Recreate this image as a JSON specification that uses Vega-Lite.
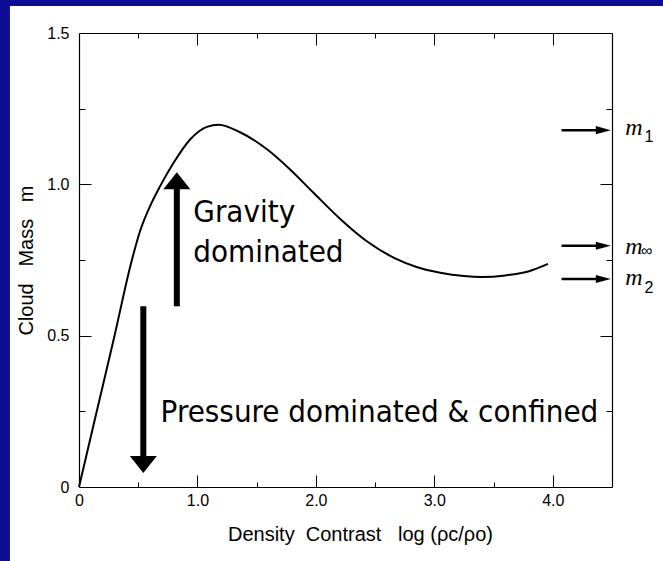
{
  "$schema": "https://vega.github.io/schema/vega-lite/v6.json",
  "width": 533,
  "height": 454,
  "autosize": "none",
  "padding": {"left": 79, "top": 33, "right": 51, "bottom": 74},
  "background": "#0D0D96",
  "config": {"view": {"stroke": null}},
  "datasets": {
    "panel": [{"name": "panel"}],
    "curve": [
      {"x": 0, "m": 0}, {"x": 0.15, "m": 0.25}, {"x": 0.3, "m": 0.5},
      {"x": 0.44, "m": 0.74}, {"x": 0.515, "m": 0.845}, {"x": 0.6, "m": 0.928}, {"x": 0.685, "m": 0.994},
      {"x": 0.8, "m": 1.072}, {"x": 0.94, "m": 1.149}, {"x": 1.08, "m": 1.19}, {"x": 1.18, "m": 1.197},
      {"x": 1.36, "m": 1.172}, {"x": 1.59, "m": 1.115}, {"x": 1.78, "m": 1.05}, {"x": 1.98, "m": 0.972},
      {"x": 2.21, "m": 0.884}, {"x": 2.43, "m": 0.812}, {"x": 2.66, "m": 0.757}, {"x": 2.85, "m": 0.727},
      {"x": 3.05, "m": 0.708}, {"x": 3.25, "m": 0.697}, {"x": 3.4, "m": 0.694}, {"x": 3.6, "m": 0.699},
      {"x": 3.8, "m": 0.713}, {"x": 3.96, "m": 0.737}
    ],
    "thick": [
      {"x": 0.826, "y": 0.597, "y2": 0.99},
      {"x": 0.543, "y": 0.597, "y2": 0.095}
    ],
    "thin": [
      {"x": 4.074, "x2": 4.38, "y": 1.179},
      {"x": 4.074, "x2": 4.38, "y": 0.797},
      {"x": 4.074, "x2": 4.38, "y": 0.687}
    ],
    "heads": [
      {"x": 0.826, "y": 1.04, "dir": "up"},
      {"x": 0.543, "y": 0.046, "dir": "down"},
      {"x": 4.49, "y": 1.179, "dir": "right"},
      {"x": 4.49, "y": 0.797, "dir": "right"},
      {"x": 4.49, "y": 0.687, "dir": "right"}
    ],
    "notes": [
      {"t": "Gravity\ndominated", "x": 0.965, "y": 0.876},
      {"t": "Pressure dominated & confined", "x": 0.689, "y": 0.215}
    ],
    "mlab": [
      {"t": "m", "x": 4.611, "y": 1.162},
      {"t": "m", "x": 4.611, "y": 0.77},
      {"t": "m", "x": 4.611, "y": 0.667}
    ],
    "msub": [
      {"t": "1", "x": 4.775, "y": 1.14},
      {"t": "∞", "x": 4.745, "y": 0.762},
      {"t": "2", "x": 4.775, "y": 0.642}
    ]
  },
  "resolve": {"axis": {"x": "independent", "y": "independent"}},
  "layer": [
    {
      "data": {"name": "panel"},
      "mark": {"type": "rect", "fill": "white", "clip": false},
      "encoding": {
        "x": {"datum": -0.583, "type": "quantitative",
          "scale": {"domain": [0, 4.5], "nice": false, "zero": false},
          "axis": {"orient": "bottom", "values": [0, 1, 2, 3, 4], "ticks": false, "grid": false,
            "labelExpr": "datum.value == 0 ? '0' : format(datum.value, '.1f')",
            "labelFont": "Liberation Sans", "labelFontSize": 16, "labelColor": "black", "labelPadding": 5,
            "labelFlush": false, "labelOverlap": false,
            "domainColor": "black", "domainWidth": 1.2,
            "title": "Density\u00a0 Contrast\u00a0\u00a0 log (ρc/ρo)", "titleFont": "Liberation Sans", "titleFontSize": 20,
            "titleFontWeight": "normal", "titleColor": "black", "titlePadding": 16, "titleX": 281, "zindex": 1}},
        "x2": {"datum": 5.0},
        "y": {"datum": -0.3, "type": "quantitative",
          "scale": {"domain": [0, 1.5], "nice": false, "zero": false},
          "axis": {"orient": "left", "values": [0, 0.5, 1, 1.5], "ticks": false, "grid": false,
            "labelExpr": "datum.value == 0 ? '0' : format(datum.value, '.1f')",
            "labelFont": "Liberation Sans", "labelFontSize": 16, "labelColor": "black", "labelPadding": 10,
            "labelFlush": false, "labelOverlap": false,
            "domainColor": "black", "domainWidth": 1.2,
            "title": "Cloud\u00a0\u00a0 Mass\u00a0\u00a0 m", "titleFont": "Liberation Sans", "titleFontSize": 20,
            "titleFontWeight": "normal", "titleColor": "black", "titlePadding": 10, "zindex": 1}},
        "y2": {"datum": 1.589}
      }
    },
    {
      "data": {"name": "curve"},
      "mark": {"type": "line", "color": "black", "strokeWidth": 2, "interpolate": "monotone"},
      "encoding": {
        "x": {"field": "x", "type": "quantitative", "scale": {"domain": [0, 4.5], "nice": false, "zero": false},
          "axis": {"orient": "bottom", "values": [0, 1, 2, 3, 4], "labels": false, "domain": false, "grid": false,
            "ticks": true, "tickSize": -12, "tickColor": "black", "tickWidth": 1, "title": null, "zindex": 1}},
        "y": {"field": "m", "type": "quantitative", "scale": {"domain": [0, 1.5], "nice": false, "zero": false},
          "axis": {"orient": "left", "values": [0.5, 1.0], "labels": false, "domain": false, "grid": false,
            "ticks": true, "tickSize": -12, "tickColor": "black", "tickWidth": 1, "title": null, "zindex": 1}}
      }
    },
    {
      "data": {"name": "thick"},
      "mark": {"type": "rule", "color": "black", "strokeWidth": 6, "strokeCap": "butt"},
      "encoding": {
        "x": {"field": "x", "type": "quantitative", "scale": {"domain": [0, 4.5], "nice": false, "zero": false},
          "axis": {"orient": "bottom", "values": [0.5, 1.5, 2.5, 3.5], "labels": false, "domain": false, "grid": false,
            "ticks": true, "tickSize": -5, "tickColor": "black", "tickWidth": 1, "title": null, "zindex": 1}},
        "y": {"field": "y", "type": "quantitative", "scale": {"domain": [0, 1.5], "nice": false, "zero": false},
          "axis": {"orient": "left", "values": [0.25, 0.75, 1.25], "labels": false, "domain": false, "grid": false,
            "ticks": true, "tickSize": -6, "tickColor": "black", "tickWidth": 1, "title": null, "zindex": 1}},
        "y2": {"field": "y2"}
      }
    },
    {
      "data": {"name": "thin"},
      "mark": {"type": "rule", "color": "black", "strokeWidth": 2.5, "strokeCap": "butt", "clip": false},
      "encoding": {
        "x": {"field": "x", "type": "quantitative", "scale": {"domain": [0, 4.5], "nice": false, "zero": false},
          "axis": {"orient": "top", "values": [1, 2, 3, 4], "labels": false, "domain": true, "domainColor": "black",
            "domainWidth": 1.2, "grid": false,
            "ticks": true, "tickSize": -12, "tickColor": "black", "tickWidth": 1, "title": null, "zindex": 1}},
        "x2": {"field": "x2"},
        "y": {"field": "y", "type": "quantitative", "scale": {"domain": [0, 1.5], "nice": false, "zero": false},
          "axis": {"orient": "right", "values": [0.5, 1.0], "labels": false, "domain": true, "domainColor": "black",
            "domainWidth": 1.2, "grid": false,
            "ticks": true, "tickSize": -12, "tickColor": "black", "tickWidth": 1, "title": null, "zindex": 1}}
      }
    },
    {
      "data": {"name": "heads"},
      "mark": {"type": "point", "filled": true, "fill": "black", "opacity": 1, "strokeWidth": 0, "size": 729, "clip": false},
      "encoding": {
        "x": {"field": "x", "type": "quantitative", "scale": {"domain": [0, 4.5], "nice": false, "zero": false},
          "axis": {"orient": "top", "values": [0.5, 1.5, 2.5, 3.5], "labels": false, "domain": false, "grid": false,
            "ticks": true, "tickSize": -5, "tickColor": "black", "tickWidth": 1, "title": null, "zindex": 1}},
        "y": {"field": "y", "type": "quantitative", "scale": {"domain": [0, 1.5], "nice": false, "zero": false},
          "axis": {"orient": "right", "values": [0.25, 0.75, 1.25], "labels": false, "domain": false, "grid": false,
            "ticks": true, "tickSize": -6, "tickColor": "black", "tickWidth": 1, "title": null, "zindex": 1}},
        "shape": {"field": "dir", "type": "nominal", "legend": null,
          "scale": {"domain": ["up", "down", "right"],
            "range": ["M0,0L1,1.26L-1,1.26Z", "M0,0L1,-1.26L-1,-1.26Z", "M0,0L-1.11,-0.3L-1.11,0.3Z"]}}
      }
    },
    {
      "data": {"name": "notes"},
      "mark": {"type": "text", "align": "left", "baseline": "alphabetic", "lineBreak": "\n", "lineHeight": 40,
        "font": "DejaVu Sans Condensed, DejaVu Sans", "fontSize": 31, "color": "black", "clip": false},
      "encoding": {
        "x": {"field": "x", "type": "quantitative", "scale": {"domain": [0, 4.5], "nice": false, "zero": false}, "axis": null},
        "y": {"field": "y", "type": "quantitative", "scale": {"domain": [0, 1.5], "nice": false, "zero": false}, "axis": null},
        "text": {"field": "t"}
      }
    },
    {
      "data": {"name": "mlab"},
      "mark": {"type": "text", "align": "left", "baseline": "alphabetic",
        "font": "Liberation Serif", "fontStyle": "italic", "fontSize": 24, "color": "black", "clip": false},
      "encoding": {
        "x": {"field": "x", "type": "quantitative", "scale": {"domain": [0, 4.5], "nice": false, "zero": false}, "axis": null},
        "y": {"field": "y", "type": "quantitative", "scale": {"domain": [0, 1.5], "nice": false, "zero": false}, "axis": null},
        "text": {"field": "t"}
      }
    },
    {
      "data": {"name": "msub"},
      "mark": {"type": "text", "align": "left", "baseline": "alphabetic",
        "font": "Liberation Sans", "fontSize": 16, "color": "black", "clip": false},
      "encoding": {
        "x": {"field": "x", "type": "quantitative", "scale": {"domain": [0, 4.5], "nice": false, "zero": false}, "axis": null},
        "y": {"field": "y", "type": "quantitative", "scale": {"domain": [0, 1.5], "nice": false, "zero": false}, "axis": null},
        "text": {"field": "t"}
      }
    }
  ]
}
